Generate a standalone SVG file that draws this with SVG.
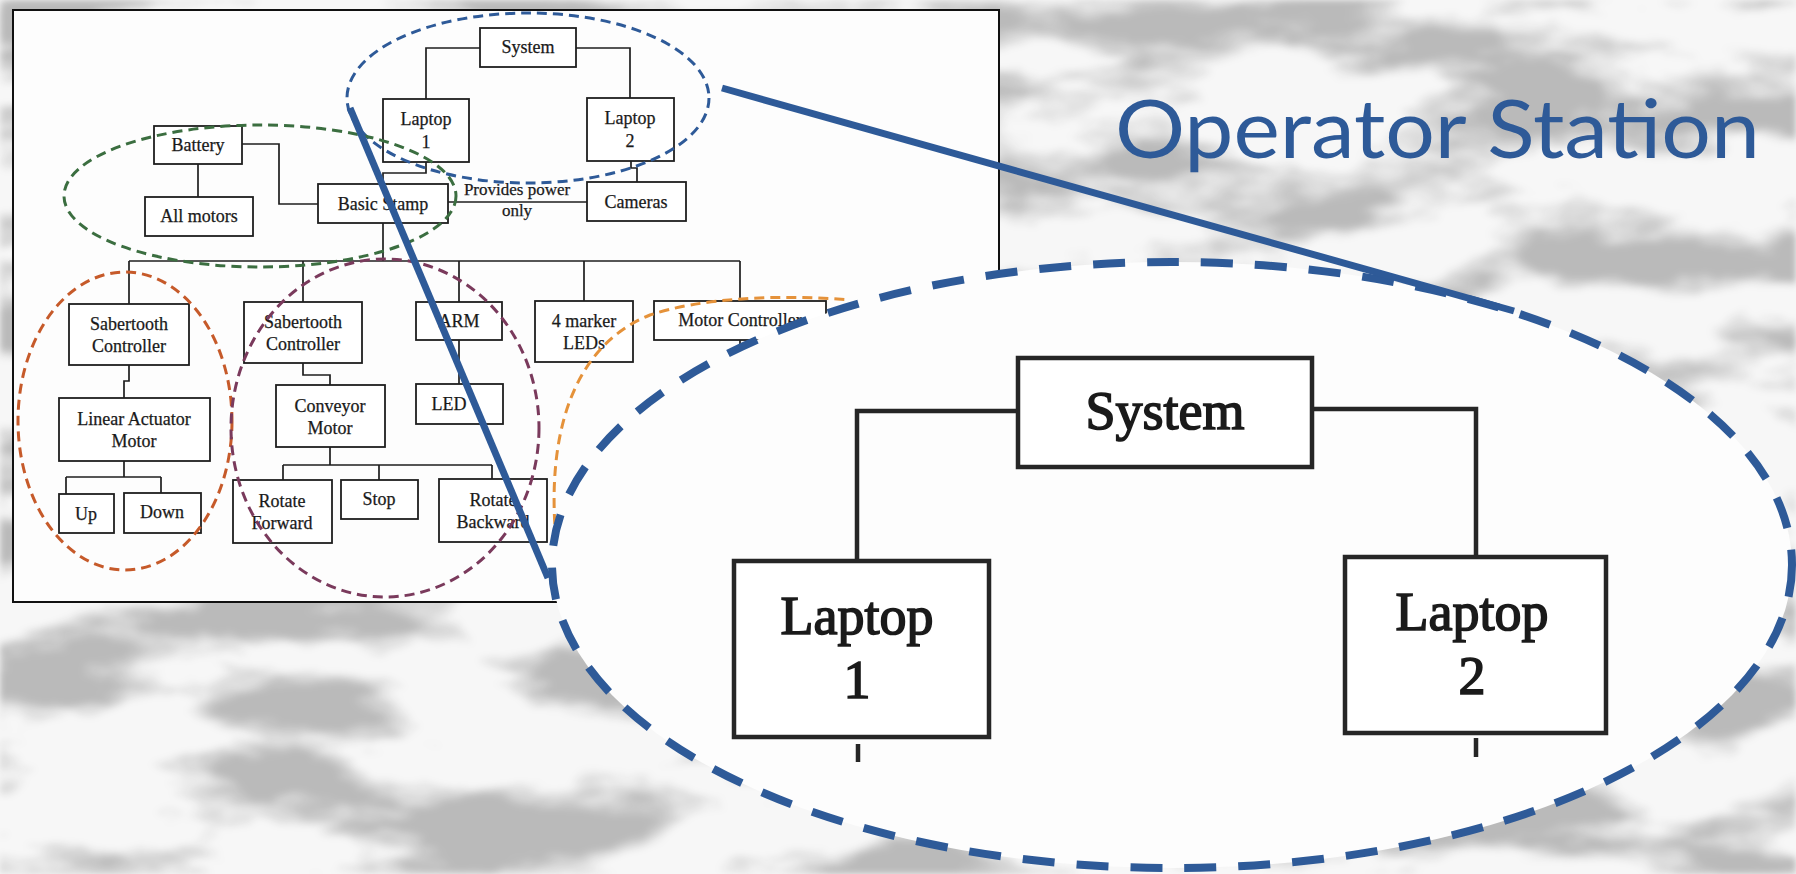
<svg xmlns="http://www.w3.org/2000/svg" width="1796" height="874" viewBox="0 0 1796 874">
<style>
.box{fill:#fff;stroke:#1e1e1e;stroke-width:1.8}
.t{font-family:"Liberation Serif","Times New Roman",serif;font-size:18px;fill:#1a1a1a;text-anchor:middle;stroke:#1a1a1a;stroke-width:0.25}
.conn{fill:none;stroke:#1e1e1e;stroke-width:1.7}
.bbox{fill:#fff;stroke:#262626;stroke-width:4.5}
.bt{font-family:"Liberation Serif","Times New Roman",serif;font-size:54px;fill:#1a1a1a;text-anchor:middle;stroke:#1a1a1a;stroke-width:1.6}
.bconn{fill:none;stroke:#262626;stroke-width:4.5}
.grp{fill:none;stroke-width:3;stroke-dasharray:10 6}
.zoomline{stroke:#2e5a98;stroke-width:7;stroke-linecap:butt}
</style>
<defs>
<filter id="moon" filterUnits="userSpaceOnUse" x="0" y="0" width="1796" height="874" color-interpolation-filters="sRGB">
<feTurbulence type="fractalNoise" baseFrequency="0.005 0.014" numOctaves="5" seed="11" result="n"/>
<feColorMatrix in="n" type="matrix" values="0 0 0 0 0  0 0 0 0 0  0 0 0 0 0  5 0 0 0 -2.2" result="a"/>
<feGaussianBlur in="a" stdDeviation="3" result="ab"/>
<feFlood flood-color="#bababa" result="g"/>
<feComposite in="g" in2="ab" operator="in" result="blobs"/>
<feFlood flood-color="#f7f7f7" result="bg"/>
<feMerge><feMergeNode in="bg"/><feMergeNode in="blobs"/></feMerge>
</filter>
</defs>

<rect id="background" x="0" y="0" width="1796" height="874" fill="#f6f6f6" filter="url(#moon)"/>

<rect id="frame" x="13" y="10" width="986" height="592" fill="#fdfdfd" stroke="#111" stroke-width="2"/>

<g id="connectors">
<path class="conn" d="M480,48 H426 V99"/>
<path class="conn" d="M576,48 H630 V98"/>
<path class="conn" d="M242,144 H279 V204 H318"/>
<path class="conn" d="M198,164 V197"/>
<path class="conn" d="M448,202 H587"/>
<path class="conn" d="M426,162 V173 H383 V184"/>
<path class="conn" d="M631,161 V168 H637 V182"/>
<path class="conn" d="M383,223 V261"/>
<path class="conn" d="M129,261 H740"/>
<path class="conn" d="M129,261 V304 M303,261 V302 M459,261 V302 M584,261 V301 M740,261 V301"/>
<path class="conn" d="M740,340 V352"/>
<path class="conn" d="M459,340 V384"/>
<path class="conn" d="M129,365 V381 H124 V398"/>
<path class="conn" d="M124,461 V477 M66,477 H161 M66,477 V494 M161,477 V493"/>
<path class="conn" d="M303,363 V375 H330 V385"/>
<path class="conn" d="M330,447 V465 M283,465 H492 M283,465 V480 M379,465 V480 M492,465 V479"/>
</g>

<g id="node-system"><rect class="box" x="480" y="28" width="96" height="39"/><text class="t" x="528" y="53">System</text></g>
<g id="node-laptop1"><rect class="box" x="383" y="99" width="86" height="63"/><text class="t" x="426" y="125">Laptop</text><text class="t" x="426" y="148">1</text></g>
<g id="node-laptop2"><rect class="box" x="587" y="98" width="87" height="63"/><text class="t" x="630" y="124">Laptop</text><text class="t" x="630" y="147">2</text></g>
<g id="node-battery"><rect class="box" x="154" y="126" width="88" height="38"/><text class="t" x="198" y="151">Battery</text></g>
<g id="node-allmotors"><rect class="box" x="145" y="197" width="108" height="39"/><text class="t" x="199" y="222">All motors</text></g>
<g id="node-basicstamp"><rect class="box" x="318" y="184" width="130" height="39"/><text class="t" x="383" y="210">Basic Stamp</text></g>
<g id="node-cameras"><rect class="box" x="587" y="182" width="99" height="39"/><text class="t" x="636" y="208">Cameras</text></g>
<g id="label-power"><text class="t" x="517" y="195" style="font-size:17px">Provides power</text><text class="t" x="517" y="216" style="font-size:17px">only</text></g>
<g id="node-sabertooth1"><rect class="box" x="69" y="304" width="120" height="61"/><text class="t" x="129" y="330">Sabertooth</text><text class="t" x="129" y="352">Controller</text></g>
<g id="node-sabertooth2"><rect class="box" x="244" y="302" width="118" height="61"/><text class="t" x="303" y="328">Sabertooth</text><text class="t" x="303" y="350">Controller</text></g>
<g id="node-arm"><rect class="box" x="416" y="302" width="86" height="38"/><text class="t" x="459" y="327">ARM</text></g>
<g id="node-markerleds"><rect class="box" x="535" y="301" width="98" height="61"/><text class="t" x="584" y="327">4 marker</text><text class="t" x="584" y="349">LEDs</text></g>
<g id="node-motorcontroller"><rect class="box" x="654" y="301" width="172" height="39"/><text class="t" x="740" y="326">Motor Controller</text></g>
<g id="node-led"><rect class="box" x="416" y="384" width="87" height="40"/><text class="t" x="449" y="410">LED</text></g>
<g id="node-linearactuator"><rect class="box" x="59" y="398" width="151" height="63"/><text class="t" x="134" y="425">Linear Actuator</text><text class="t" x="134" y="447">Motor</text></g>
<g id="node-up"><rect class="box" x="59" y="494" width="55" height="39"/><text class="t" x="86" y="520">Up</text></g>
<g id="node-down"><rect class="box" x="124" y="493" width="77" height="40"/><text class="t" x="162" y="518">Down</text></g>
<g id="node-conveyor"><rect class="box" x="276" y="385" width="109" height="62"/><text class="t" x="330" y="412">Conveyor</text><text class="t" x="330" y="434">Motor</text></g>
<g id="node-rotateforward"><rect class="box" x="233" y="480" width="99" height="63"/><text class="t" x="282" y="507">Rotate</text><text class="t" x="282" y="529">Forward</text></g>
<g id="node-stop"><rect class="box" x="341" y="480" width="77" height="39"/><text class="t" x="379" y="505">Stop</text></g>
<g id="node-rotatebackward"><rect class="box" x="439" y="479" width="108" height="63"/><text class="t" x="493" y="506">Rotate</text><text class="t" x="493" y="528">Backward</text></g>

<g id="groupings">
<ellipse class="grp" cx="528" cy="98" rx="181" ry="85" stroke="#2e5a98"/>
<ellipse class="grp" cx="260" cy="196" rx="196" ry="71" stroke="#3b6e40"/>
<ellipse class="grp" cx="125" cy="421" rx="107" ry="149" stroke="#c65a2a"/>
<ellipse class="grp" cx="385" cy="428" rx="154" ry="169" stroke="#7a3a5c"/>
<path class="grp" d="M556,540 C546,430 575,345 650,315 C700,298 780,294 850,300" stroke="#e5923a"/>
</g>

<g id="zoom-view">
<ellipse cx="1172" cy="565" rx="620" ry="303" fill="#fdfdfd" stroke="#2e5a98" stroke-width="8" stroke-dasharray="32 22"/>
<g id="big-connectors">
<path class="bconn" d="M1018,411 H857 V561"/>
<path class="bconn" d="M1312,409 H1476 V557"/>
<path class="bconn" d="M858,744 V762 M1476,738 V757"/>
</g>
<g id="big-system"><rect class="bbox" x="1018" y="358" width="294" height="109"/><text class="bt" x="1165" y="429">System</text></g>
<g id="big-laptop1"><rect class="bbox" x="734" y="561" width="255" height="176"/><text class="bt" x="857" y="634">Laptop</text><text class="bt" x="857" y="698">1</text></g>
<g id="big-laptop2"><rect class="bbox" x="1345" y="557" width="261" height="176"/><text class="bt" x="1472" y="630">Laptop</text><text class="bt" x="1472" y="694">2</text></g>
</g>

<g id="callout-lines">
<line class="zoomline" x1="722" y1="88" x2="1514" y2="311"/>
<line class="zoomline" x1="350" y1="108" x2="548" y2="578"/>
</g>

<text id="title" x="1115" y="158" textLength="645" lengthAdjust="spacingAndGlyphs" style="font-family:Lato,'Open Sans',sans-serif;font-size:82px;fill:#2e5a98">Operator Station</text>
</svg>
